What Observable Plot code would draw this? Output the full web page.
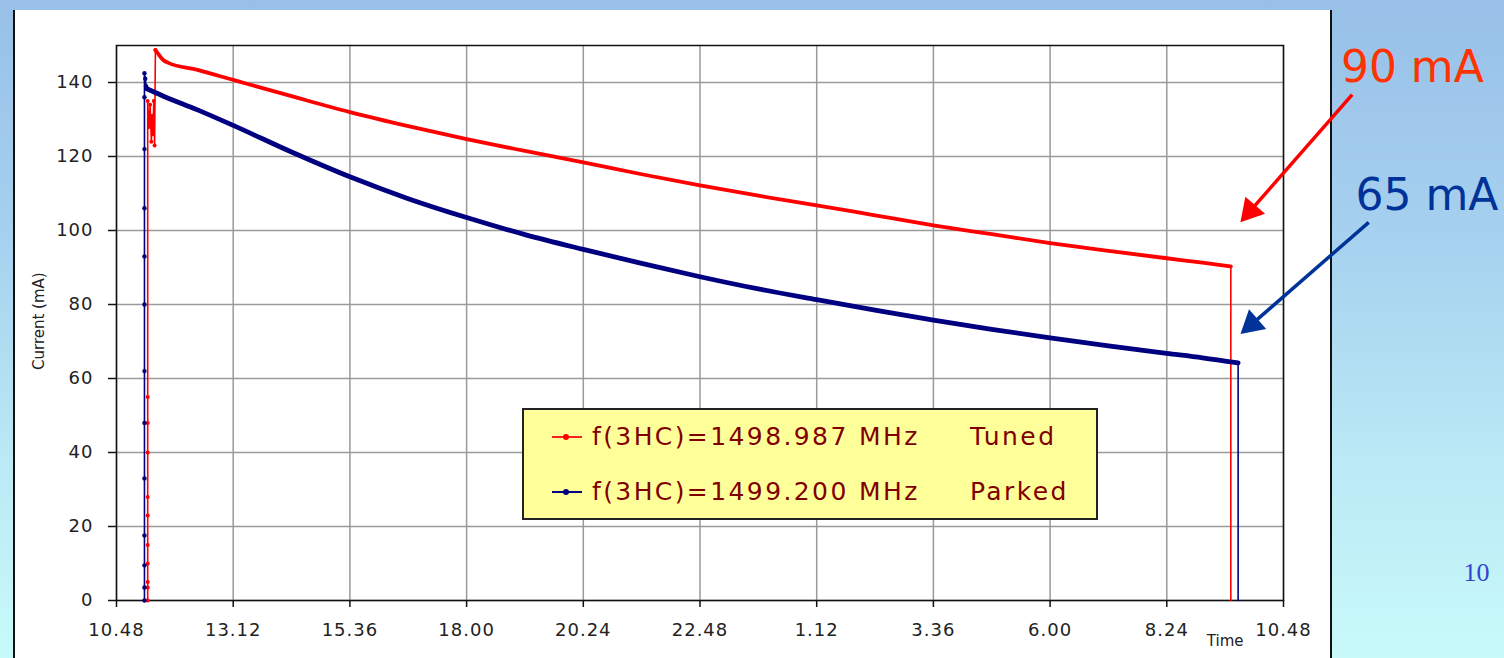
<!DOCTYPE html>
<html>
<head>
<meta charset="utf-8">
<script src="https://cdn.jsdelivr.net/npm/d3@7"></script>
<script src="https://cdn.jsdelivr.net/npm/@observablehq/plot@0.6"></script>
<style>
html,body{margin:0;padding:0;}
body{width:1504px;height:658px;overflow:hidden;position:relative;
  background:linear-gradient(to bottom,#98c0e8 0%,#a6d0ef 35%,#bbe9f5 70%,#c8fafa 100%);
  font-family:"DejaVu Sans",sans-serif;}
#panel{position:absolute;left:13px;top:10px;width:1315px;height:648px;background:#fff;
  border-left:2px solid #111;border-right:2px solid #111;}
#chart{position:absolute;left:0;top:0;}
#chart g[aria-label="x-axis tick label"], #chart g[aria-label="y-axis tick label"]{font-size:18px !important;letter-spacing:1px;font-variant-numeric:normal;}
#legend{position:absolute;left:522px;top:408px;width:572px;height:108px;background:#ffff99;border:2px solid #222;}
#legend .row{position:absolute;left:0;width:100%;height:0;}
#legend .sw{position:absolute;left:28px;top:-1px;width:30px;height:2px;}
#legend .sw i{position:absolute;left:11px;top:-2px;width:6px;height:6px;border-radius:3px;}
#legend .lab,#legend .st{position:absolute;top:-16px;font-size:25px;line-height:32px;color:#800000;letter-spacing:2.4px;white-space:nowrap;}
#legend .lab{left:68px;}
#legend .st{left:446px;}
</style>
</head>
<body>
<div id="panel"></div>
<div id="chart"></div>
<div id="legend">
  <div class="row" style="top:27px"><span class="sw" style="background:#ff2020"><i style="background:#ff0000"></i></span><span class="lab">f(3HC)=1498.987 MHz</span><span class="st">Tuned</span></div>
  <div class="row" style="top:82px"><span class="sw" style="background:#000080"><i style="background:#000080"></i></span><span class="lab">f(3HC)=1499.200 MHz</span><span class="st">Parked</span></div>
</div>
<script>
// x values: minutes elapsed since 10:48
const xTickMinutes = [0,144,288,432,576,720,864,1008,1152,1296,1440];
const xTickLabels = ["10.48","13.12","15.36","18.00","20.24","22.48","1.12","3.36","6.00","8.24","10.48"];
const yTicks = [0,20,40,60,80,100,120,140];

// Tuned: f(3HC)=1498.987 MHz  [minutes, mA]
const tunedRise = [[38.5,0],[38.5,3.5],[38.5,5],[38.5,10],[38.5,15],[38.5,23],[38.5,28],[38.5,40],[38.5,48],[38.5,55],[38.5,135],[40,128],[41.5,134],[43,124],[44,131],[45,126],[46,135],[47,123],[48,148.8]];
const tunedDecay = [[48,148.8],[52,147.6],[58,146],[64,145.3],[100,143.4],[144,140.7],[216,136.3],[288,132],[360,128.2],[432,124.7],[504,121.5],[576,118.4],[648,115.2],[720,112.2],[792,109.4],[864,106.8],[936,104.1],[1008,101.4],[1080,99],[1152,96.6],[1224,94.5],[1296,92.5],[1340,91.3],[1375,90.3]];
const tunedDrop = [[1375,90.3],[1375,0]];

// Parked: f(3HC)=1499.200 MHz
const parkedRise = [[34.5,0],[34.5,3.5],[34.5,9.5],[34.5,17.6],[34.5,33],[34.5,48],[34.5,62],[34.5,80],[34.5,93],[34.5,106],[34.5,122],[34.5,136],[34.5,142.5],[35.5,141],[36.5,139],[37.5,138.3]];
const parkedDecay = [[37.5,138.3],[58,136.3],[100,132.6],[144,128.4],[216,121.2],[288,114.5],[360,108.6],[432,103.5],[504,98.9],[576,94.9],[648,91.1],[720,87.5],[792,84.2],[864,81.3],[936,78.5],[1008,75.8],[1080,73.3],[1152,71],[1224,68.8],[1296,66.8],[1340,65.6],[1384,64.2]];
const parkedDrop = [[1384,64.2],[1384,0]];

// annotations (data units)
const calloutLabels = [
  {t:1599, v:144, text:"90 mA", color:"#ff3300"},
  {t:1617, v:109.3, text:"65 mA", color:"#003399"}
];
const calloutArrows = [
  {t1:1524.8, v1:136.7, t2:1399, v2:105.3, angle:221, color:"#ff0000"},
  {t1:1545.2, v1:102.2, t2:1401, v2:74.7, angle:229, color:"#003399"}
];
const axisTitles = [
  {t:-96, v:75.5, text:"Current (mA)", rotate:-90, size:15},
  {t:1368, v:-11, text:"Time", rotate:0, size:15}
];
const pageNumber = [{t:1678, v:7.6, text:"10"}];

const X = d => d[0], Y = d => d[1];

const chart = Plot.plot({
  width: 1504, height: 658,
  marginLeft: 116, marginRight: 221, marginTop: 45, marginBottom: 58,
  style: {background: "transparent", fontFamily: "DejaVu Sans, sans-serif", overflow: "visible"},
  x: {domain: [0, 1440], label: null},
  y: {domain: [0, 150], label: null},
  marks: [
    Plot.gridX({ticks: xTickMinutes, stroke: "#9a9a9a", strokeOpacity: 1, strokeWidth: 1.5}),
    Plot.gridY({ticks: yTicks, stroke: "#9a9a9a", strokeOpacity: 1, strokeWidth: 1.5}),
    Plot.frame({stroke: "#111", strokeWidth: 1.5}),
    Plot.axisX({ticks: xTickMinutes, tickFormat: d => xTickLabels[xTickMinutes.indexOf(d)], tickSize: 7, tickPadding: 16, fontSize: 18, stroke: "#111", strokeWidth: 1.5, fill: "#222", label: null}),
    Plot.axisY({ticks: yTicks, tickSize: 8, tickPadding: 15, fontSize: 18, stroke: "#111", strokeWidth: 1.5, fill: "#222", label: null}),
    // tuned (red)
    Plot.line(tunedRise, {x: X, y: Y, stroke: "#ff0000", strokeWidth: 1.6}),
    Plot.dot(tunedRise, {x: X, y: Y, r: 2, fill: "#ff0000"}),
    Plot.line(tunedDrop, {x: X, y: Y, stroke: "#ff0000", strokeWidth: 1.6}),
    Plot.line(tunedDecay, {x: X, y: Y, stroke: "#ff0000", strokeWidth: 3.8, curve: "monotone-x"}),
    // parked (blue)
    Plot.line(parkedRise, {x: X, y: Y, stroke: "#000080", strokeWidth: 1.6}),
    Plot.dot(parkedRise, {x: X, y: Y, r: 2.2, fill: "#000080"}),
    Plot.line(parkedDrop, {x: X, y: Y, stroke: "#000080", strokeWidth: 1.6}),
    Plot.line(parkedDecay, {x: X, y: Y, stroke: "#000080", strokeWidth: 4.8, curve: "monotone-x"}),
    // axis titles
    ...axisTitles.map(a => Plot.text([a], {x: "t", y: "v", text: "text", rotate: a.rotate, fontSize: a.size, fill: "#222"})),
    // callouts
    ...calloutArrows.map(a => Plot.link([a], {x1: "t1", y1: "v1", x2: "t2", y2: "v2", stroke: a.color, strokeWidth: 3.5})),
    ...calloutArrows.map(a => Plot.dot([a], {x: "t2", y: "v2", symbol: "triangle", r: 9.7, fill: a.color, stroke: "none", rotate: a.angle})),
    ...calloutLabels.map(a => Plot.text([a], {x: "t", y: "v", text: "text", fill: a.color, fontSize: 44})),
    Plot.text(pageNumber, {x: "t", y: "v", text: "text", fill: "#3344cc", fontSize: 26, fontFamily: "Liberation Serif, serif"})
  ]
});
document.getElementById("chart").appendChild(chart);
</script>
</body>
</html>
